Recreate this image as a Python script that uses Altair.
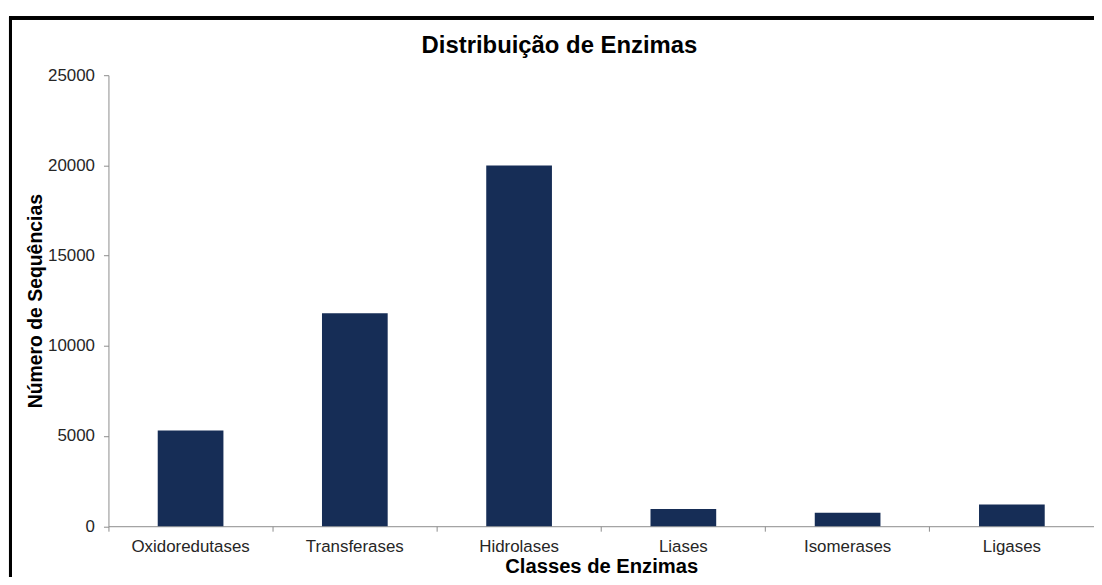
import altair as alt
import pandas as pd

categories = ["Oxidoredutases", "Transferases", "Hidrolases", "Liases", "Isomerases", "Ligases"]
values = [5300, 11800, 20000, 950, 750, 1200]
y_ticks = [0, 5000, 10000, 15000, 20000, 25000]

df = pd.DataFrame({"classe": categories, "n": values})

FONT = "Liberation Sans"
PLOT_W = 991
PLOT_H = 453.5

bars = alt.Chart(df).mark_bar(color="#162d56").encode(
    x=alt.X(
        "classe:N",
        sort=categories,
        scale=alt.Scale(paddingInner=0.6, paddingOuter=0.3),
        axis=alt.Axis(
            title="Classes de Enzimas",
            labelAngle=0,
            labelFontSize=17,
            labelColor="#262626",
            labelPadding=7,
            bandPosition=-0.75,
            tickSize=5,
            tickColor="#8c8c8c",
            domainColor="#8c8c8c",
            titleFontSize=20.3,
            titleFontWeight="bold",
            titleColor="#000000",
            titlePadding=3,
        ),
    ),
    y=alt.Y(
        "n:Q",
        scale=alt.Scale(domain=[0, 25000], nice=False),
        axis=alt.Axis(
            title="Número de Sequências",
            values=y_ticks,
            format="d",
            grid=False,
            labelFontSize=17,
            labelColor="#262626",
            labelPadding=9,
            tickSize=5,
            tickColor="#8c8c8c",
            domainColor="#8c8c8c",
            titleFontSize=19.5,
            titleFontWeight="bold",
            titleColor="#000000",
            titlePadding=2,
        ),
    ),
)

frame_top = alt.Chart(df).mark_rule(color="#000000", strokeWidth=3).encode(
    x=alt.value(-99), x2=alt.value(PLOT_W + 20), y=alt.value(-57.5)
)
frame_left = alt.Chart(df).mark_rule(color="#000000", strokeWidth=3).encode(
    x=alt.value(-98.5), y=alt.value(-59), y2=alt.value(PLOT_H + 60)
)

chart = (
    alt.layer(bars, frame_top, frame_left)
    .properties(
        width=PLOT_W,
        height=PLOT_H,
        title=alt.TitleParams(
            "Distribuição de Enzimas",
            fontSize=24,
            fontWeight="bold",
            color="#000000",
            font=FONT,
            anchor="middle",
            baseline="alphabetic",
            dx=-42,
            dy=62,
            offset=0,
        ),
        autosize=alt.AutoSizeParams(type="none"),
        padding={"left": 101, "top": 66, "right": 0, "bottom": 49.5},
    )
    .configure(font=FONT)
    .configure_view(stroke=None)
    .configure_axis(labelFont=FONT, titleFont=FONT)
)

chart.save("out.html", embed_options={"renderer": "svg", "actions": False})
